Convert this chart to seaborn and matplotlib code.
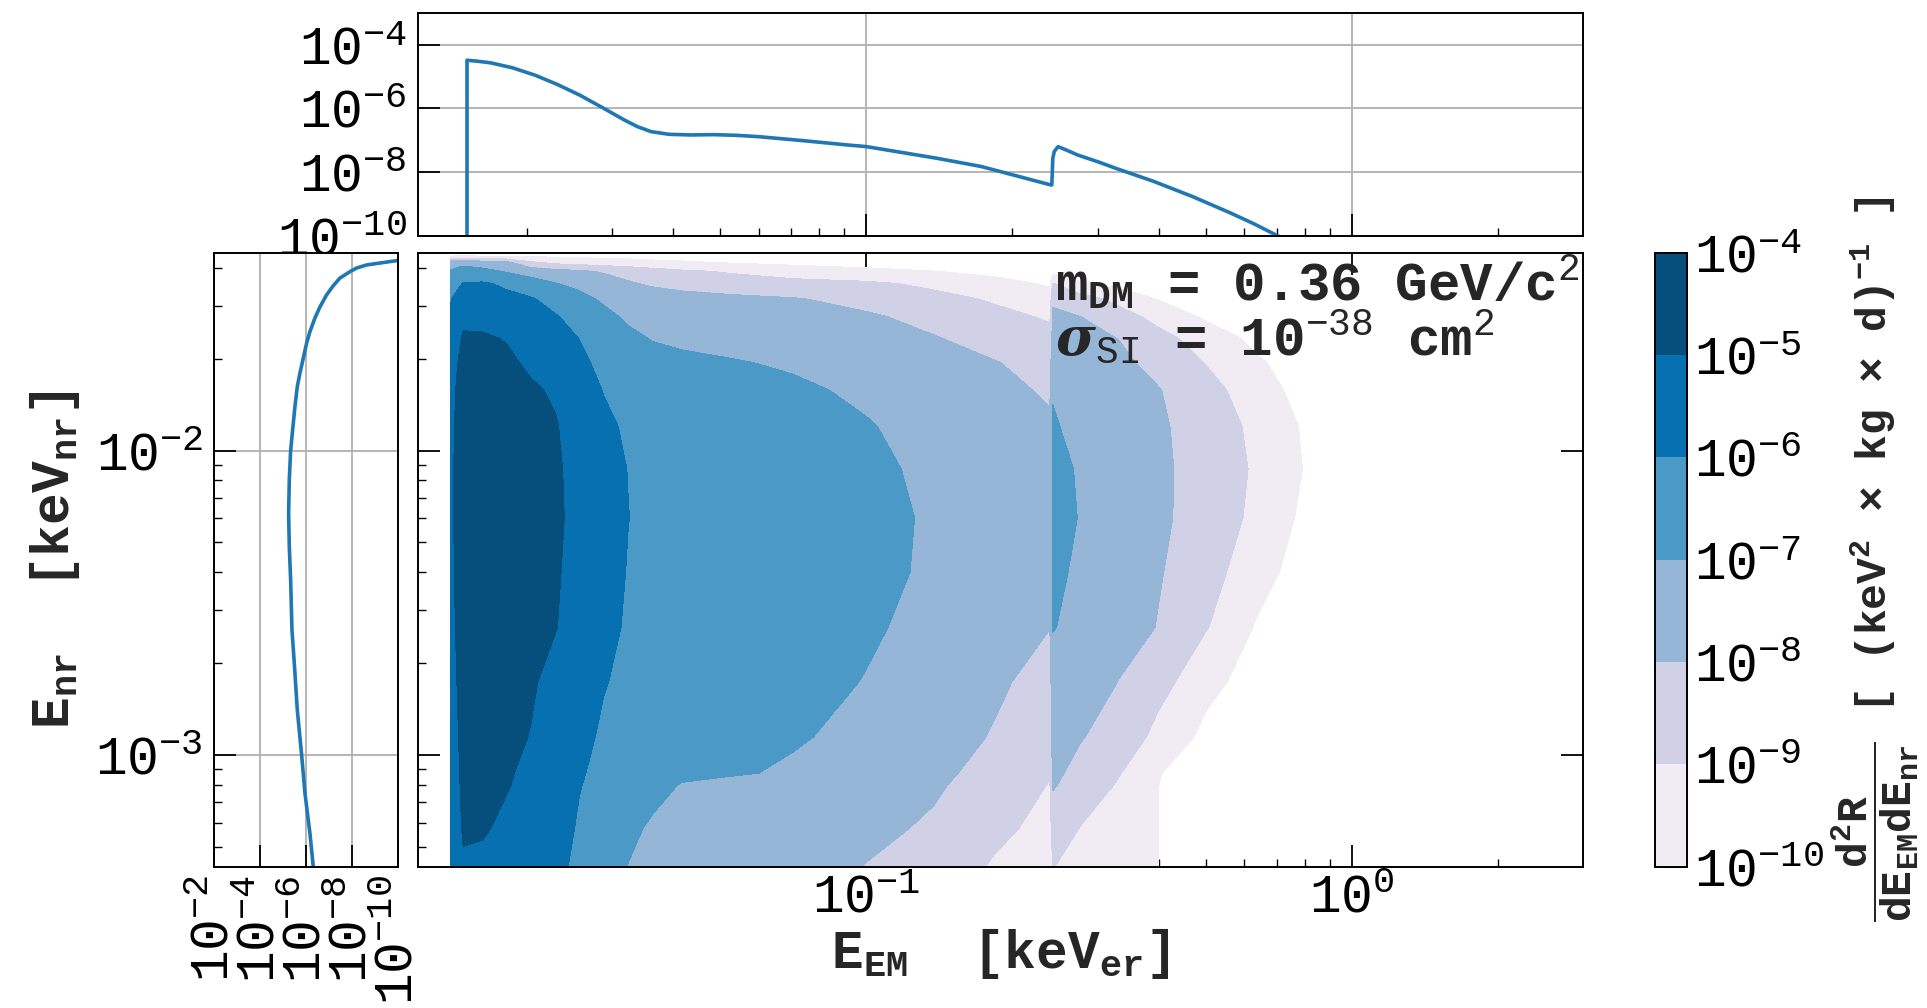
import numpy as np
import matplotlib
matplotlib.use("Agg")
import matplotlib.pyplot as plt
import seaborn as sns
from matplotlib.ticker import FixedLocator, NullLocator

# ---------------- data ----------------
# grid of the 2D rate: log10(E_EM / keV) columns, log10(E_nr / keV) rows
em_log10 = [-1.856, -1.83, -1.79, -1.74, -1.69, -1.64, -1.59, -1.54, -1.49, -1.44,
            -1.38, -1.28, -1.15, -1.00, -0.86, -0.74, -0.622, -0.616, -0.56, -0.48,
            -0.40, -0.30, -0.20, -0.10, 0.0]
nr_log10 = [-1.345, -1.36, -1.38, -1.41, -1.45, -1.50, -1.56, -1.63, -1.71, -1.80,
            -1.92, -2.06, -2.22, -2.40, -2.58, -2.76, -2.94, -3.06, -3.10, -3.24, -3.37]
# log10 of d2R/dE_EM dE_nr  (rows follow nr_log10, columns follow em_log10)
rate_log10 = [
    [-10.5, -10.5, -10.6, -10.7, -10.8, -10.9, -11.0, -11.0, -11.0, -11.0, -11.0, -11.0, -11.0, -11.0, -11.2, -11.3, -11.5, -11.5, -11.5, -11.5, -11.5, -11.5, -11.5, -11.5, -11.5],
    [-10.0, -9.95, -10.0, -10.05, -10.1, -10.15, -10.2, -10.25, -10.3, -10.35, -10.4, -10.5, -10.6, -10.7, -10.9, -11.1, -11.3, -11.4, -11.5, -11.5, -11.5, -11.5, -11.5, -11.5, -11.5],
    [-7.5, -7.3, -7.55, -7.85, -8.9, -9.3, -9.45, -9.55, -9.65, -9.8, -9.9, -10.1, -10.3, -10.5, -10.7, -10.9, -11.2, -10.9, -11.0, -11.2, -11.5, -11.5, -11.5, -11.5, -11.5],
    [-6.9, -6.6, -6.7, -7.1, -7.4, -7.65, -7.85, -8.1, -8.35, -8.6, -8.85, -9.1, -9.4, -9.7, -9.98, -10.3, -10.6, -10.3, -10.5, -10.7, -10.9, -11.2, -11.5, -11.5, -11.5],
    [-6.5, -5.95, -5.9, -6.15, -6.6, -6.97, -7.25, -7.55, -7.9, -8.15, -8.35, -8.55, -8.75, -8.85, -9.2, -9.6, -10.15, -8.95, -9.9, -10.3, -10.6, -11.0, -11.3, -11.5, -11.5],
    [-6.05, -5.5, -5.55, -5.8, -5.93, -6.35, -6.75, -7.15, -7.35, -7.5, -7.65, -7.8, -7.95, -8.3, -8.75, -9.1, -9.6, -8.15, -8.6, -9.3, -10.05, -10.5, -10.9, -11.3, -11.5],
    [-5.9, -5.2, -5.25, -5.45, -5.7, -5.93, -6.35, -6.75, -7.15, -7.3, -7.4, -7.5, -7.65, -7.88, -8.3, -8.75, -9.1, -7.85, -7.98, -8.6, -9.3, -10.15, -10.6, -11.0, -11.4],
    [-5.6, -4.9, -4.9, -5.05, -5.4, -5.7, -6.02, -6.45, -6.8, -7.05, -7.15, -7.25, -7.4, -7.6, -7.95, -8.35, -8.75, -7.6, -7.75, -8.02, -8.7, -9.45, -10.25, -10.8, -11.3],
    [-5.4, -4.7, -4.72, -4.85, -5.15, -5.5, -5.85, -6.2, -6.5, -6.7, -6.85, -6.95, -7.1, -7.35, -7.65, -7.95, -8.35, -7.35, -7.5, -7.8, -8.3, -9.05, -9.85, -10.5, -11.1],
    [-5.3, -4.55, -4.6, -4.72, -4.9, -5.1, -5.5, -6.05, -6.3, -6.5, -6.62, -6.72, -6.88, -7.15, -7.5, -7.8, -8.1, -7.04, -7.3, -7.6, -7.95, -8.65, -9.55, -10.35, -11.0],
    [-5.25, -4.45, -4.5, -4.6, -4.75, -4.95, -5.35, -5.8, -6.15, -6.35, -6.47, -6.55, -6.7, -6.95, -7.3, -7.6, -7.9, -6.95, -7.15, -7.45, -7.85, -8.5, -9.2, -10.1, -10.8],
    [-5.2, -4.4, -4.45, -4.55, -4.7, -4.9, -5.25, -5.7, -6.02, -6.25, -6.38, -6.45, -6.58, -6.82, -7.2, -7.5, -7.8, -6.85, -7.05, -7.4, -7.8, -8.45, -9.1, -10.02, -10.7],
    [-5.2, -4.38, -4.42, -4.52, -4.68, -4.88, -5.22, -5.65, -5.99, -6.2, -6.33, -6.4, -6.52, -6.75, -7.12, -7.45, -7.75, -6.83, -7.02, -7.4, -7.82, -8.45, -9.2, -10.2, -10.9],
    [-5.25, -4.42, -4.45, -4.55, -4.72, -4.92, -5.28, -5.7, -6.04, -6.25, -6.36, -6.43, -6.55, -6.77, -7.15, -7.55, -7.9, -6.88, -7.1, -7.5, -7.92, -8.65, -9.55, -10.5, -11.2],
    [-5.3, -4.5, -4.53, -4.63, -4.8, -4.97, -5.35, -5.78, -6.1, -6.33, -6.45, -6.52, -6.65, -6.88, -7.3, -7.7, -7.98, -6.97, -7.2, -7.6, -8.03, -8.95, -10.05, -10.9, -11.5],
    [-5.4, -4.6, -4.65, -4.75, -4.93, -5.2, -5.55, -5.95, -6.22, -6.42, -6.55, -6.65, -6.78, -7.03, -7.45, -7.8, -8.45, -7.25, -7.55, -8.02, -8.7, -9.6, -10.6, -11.3, -11.8],
    [-5.5, -4.7, -4.78, -4.88, -5.02, -5.35, -5.78, -6.13, -6.38, -6.55, -6.7, -6.8, -6.92, -7.25, -7.65, -8.05, -8.7, -7.55, -7.92, -8.55, -9.2, -10.3, -11.0, -11.6, -12.0],
    [-5.58, -4.78, -4.85, -4.95, -5.12, -5.45, -5.92, -6.25, -6.5, -6.68, -6.85, -6.93, -7.1, -7.45, -7.82, -8.3, -8.92, -7.8, -8.3, -8.95, -9.9, -11.2, -11.8, -12.0, -12.0],
    [-5.6, -4.8, -4.88, -4.97, -5.15, -5.5, -5.97, -6.3, -6.55, -6.75, -7.05, -7.2, -7.35, -7.55, -7.9, -8.4, -9.05, -7.92, -8.45, -9.1, -9.97, -11.5, -12.0, -12.0, -12.0],
    [-5.7, -4.9, -4.95, -5.1, -5.3, -5.65, -6.1, -6.45, -6.85, -7.1, -7.35, -7.5, -7.65, -7.85, -8.1, -8.7, -9.4, -8.5, -9.02, -9.5, -9.97, -11.5, -12.0, -12.0, -12.0],
    [-5.9, -5.1, -5.1, -5.25, -5.45, -5.8, -6.2, -6.6, -7.02, -7.25, -7.5, -7.65, -7.8, -8.02, -8.4, -9.1, -9.7, -8.98, -9.35, -9.6, -9.98, -11.5, -12.0, -12.0, -12.0],
]
rate_levels = [-10, -9, -8, -7, -6, -5, -4]
level_colors = ['#f1ebf4', '#d0d1e6', '#96b6d8', '#4a99c7', '#0770b0', '#064f7c']

# marginal over E_nr (top panel)
top_em_log10 = [-1.822, -1.822, -1.801, -1.773, -1.728, -1.682, -1.636, -1.590, -1.544, -1.498,
                -1.471, -1.443, -1.406, -1.361, -1.315, -1.269, -1.223, -1.131, -1.039, -1.0,
                -0.856, -0.764, -0.621, -0.618, -0.616, -0.613, -0.605, -0.589, -0.565, -0.52,
                -0.487, -0.408, -0.329, -0.25, -0.203, -0.155, -0.124]
top_rate_log10 = [-11.0, -4.49, -4.52, -4.573, -4.729, -4.958, -5.25, -5.583, -5.969, -6.365,
                  -6.573, -6.729, -6.813, -6.833, -6.823, -6.844, -6.885, -7.01, -7.146, -7.198,
                  -7.56, -7.82, -8.396, -8.40, -7.57, -7.35, -7.2, -7.30, -7.46, -7.69,
                  -7.875, -8.29, -8.76, -9.28, -9.61, -9.98, -10.2]
# marginal over E_EM (left panel)
left_nr_log10 = [-1.36, -1.374, -1.381, -1.389, -1.399, -1.411, -1.432, -1.457, -1.487, -1.527,
                 -1.563, -1.608, -1.646, -1.695, -1.744, -1.789, -1.854, -1.931, -2.0, -2.095,
                 -2.205, -2.315, -2.424, -2.589, -2.698, -2.852, -3.0, -3.126, -3.258, -3.368]
left_rate_log10 = [-10.8, -10.0, -9.348, -8.623, -8.188, -7.899, -7.464, -7.174, -6.884, -6.594,
                   -6.377, -6.159, -6.014, -5.87, -5.725, -5.609, -5.507, -5.406, -5.319, -5.261,
                   -5.232, -5.261, -5.319, -5.377, -5.478, -5.609, -5.797, -5.942, -6.159, -6.304]

mass_text = r'$\mathbf{m_{DM}}$ = 0.36 GeV/c$^{2}$'
xsec_text = r'$\mathbfit{\sigma}_{\mathrm{SI}}$ = 10$^{-38}$ cm$^{2}$'

# ---------------- style ----------------
sns.set_style("ticks")
plt.rcParams.update({
    'font.family': ['Liberation Mono', 'DejaVu Sans'],
    'mathtext.fontset': 'custom',
    'mathtext.rm': 'Liberation Mono',
    'mathtext.it': 'Liberation Mono:italic',
    'mathtext.bf': 'Liberation Mono:bold',
    'mathtext.bfit': 'DejaVu Serif:italic:bold',
    'mathtext.sf': 'Liberation Mono',
    'mathtext.tt': 'Liberation Mono',
    'mathtext.cal': 'Liberation Mono',
    'axes.edgecolor': 'black',
    'axes.linewidth': 1.4,
    'xtick.color': 'black',
    'ytick.color': 'black',
})

TICK_FS = 38
LABEL_FS = 38
MAJ, MIN = 16, 6
GRID_KW = dict(color='#b0b0b0', lw=1.3)
LINE_COLOR = '#1f77b4'

fig = plt.figure(figsize=(19.27, 10.08), dpi=100)
ax = fig.add_axes([0.2169, 0.1402, 0.6046, 0.6093])
ax_top = fig.add_axes([0.2169, 0.7659, 0.6046, 0.2215], sharex=ax)
ax_left = fig.add_axes([0.1112, 0.1402, 0.0955, 0.6093], sharey=ax)
cax = fig.add_axes([0.8588, 0.1402, 0.0165, 0.6093])

# ---------------- main contour ----------------
EM = 10.0 ** np.array(em_log10)
NR = 10.0 ** np.array(nr_log10)
Z = np.array(rate_log10)
cs = ax.contourf(EM, NR, Z, levels=rate_levels, colors=level_colors)
ax.set_xscale('log')
ax.set_yscale('log')
ax.set_xlim(0.01194, 2.99)
ax.set_ylim(4.295e-4, 0.04487)
ax.tick_params(axis='both', which='major', direction='in', length=MAJ, width=1.3,
               top=True, right=True, labelleft=False, labelsize=TICK_FS, pad=5)
ax.tick_params(axis='both', which='minor', direction='in', length=MIN, width=1.0,
               top=False, right=False)
ax.set_xlabel(r'$\mathbf{E_{EM}}$  [keV$_{\mathbf{er}}$]', fontsize=LABEL_FS,
              fontweight='bold', labelpad=2)
ax.text(0.547, 0.92, mass_text, transform=ax.transAxes, fontsize=39,
        fontweight='bold', ha='left', va='baseline')
ax.text(0.547, 0.833, xsec_text, transform=ax.transAxes, fontsize=39,
        fontweight='bold', ha='left', va='baseline')

# ---------------- top marginal ----------------
sns.lineplot(x=10.0 ** np.array(top_em_log10), y=10.0 ** np.array(top_rate_log10),
             ax=ax_top, color=LINE_COLOR, lw=2.6, sort=False, estimator=None)
ax_top.set_yscale('log')
ax_top.set_ylim(1e-10, 1e-3)
ax_top.yaxis.set_major_locator(FixedLocator([1e-10, 1e-8, 1e-6, 1e-4]))
ax_top.yaxis.set_minor_locator(NullLocator())
ax_top.grid(True, which='major', **GRID_KW)
ax_top.tick_params(axis='y', which='major', direction='in', length=MAJ, width=1.3,
                   left=True, right=False, labelsize=TICK_FS, pad=8)
ax_top.tick_params(axis='x', which='major', direction='in', length=MAJ, width=1.3,
                   bottom=True, top=False, labelbottom=False)
ax_top.tick_params(axis='x', which='minor', direction='in', length=MIN, width=1.0,
                   bottom=True, top=False)
ax_top.set_xlabel('')
ax_top.set_ylabel('')

# ---------------- left marginal ----------------
sns.lineplot(x=10.0 ** np.array(left_rate_log10), y=10.0 ** np.array(left_nr_log10),
             ax=ax_left, color=LINE_COLOR, lw=2.6, sort=False, estimator=None, orient='y')
ax_left.set_xscale('log')
ax_left.set_xlim(1e-2, 1e-10)
ax_left.xaxis.set_major_locator(FixedLocator([1e-2, 1e-4, 1e-6, 1e-8, 1e-10]))
ax_left.xaxis.set_minor_locator(NullLocator())
ax_left.grid(True, which='major', **GRID_KW)
ax_left.tick_params(axis='x', which='major', direction='in', length=MAJ, width=1.3,
                    bottom=True, top=False, labelsize=TICK_FS, labelrotation=90, pad=6)
ax_left.tick_params(axis='y', which='major', direction='in', length=MAJ, width=1.3,
                    left=True, right=False, labelleft=True, labelsize=TICK_FS, pad=8)
ax_left.tick_params(axis='y', which='minor', direction='in', length=MIN, width=1.0,
                    left=True, right=False)
ax_left.set_xlabel('')
ax_left.set_ylabel(r'$\mathbf{E_{nr}}$  [keV$_{\mathbf{nr}}$]', fontsize=LABEL_FS,
                   fontweight='bold', labelpad=10)

# ---------------- colorbar ----------------
cb = fig.colorbar(cs, cax=cax)
cb.set_ticks(rate_levels)
cb.set_ticklabels([r'$\mathdefault{10^{%d}}$' % l for l in rate_levels])
cax.minorticks_off()
cax.tick_params(direction='in', length=MAJ, width=1.3, labelsize=TICK_FS, right=True, pad=5)
cb.outline.set_linewidth(1.4)
cb.set_label(r'$\dfrac{\mathbf{d^2R}}{\mathbf{dE_{EM}dE_{nr}}}$ [ (keV$^{\mathbf{2}}$ × kg × d)$^{\mathbf{-1}}$ ]',
             fontsize=31, fontweight='bold', labelpad=4)

fig.savefig('out.png', dpi=100)
